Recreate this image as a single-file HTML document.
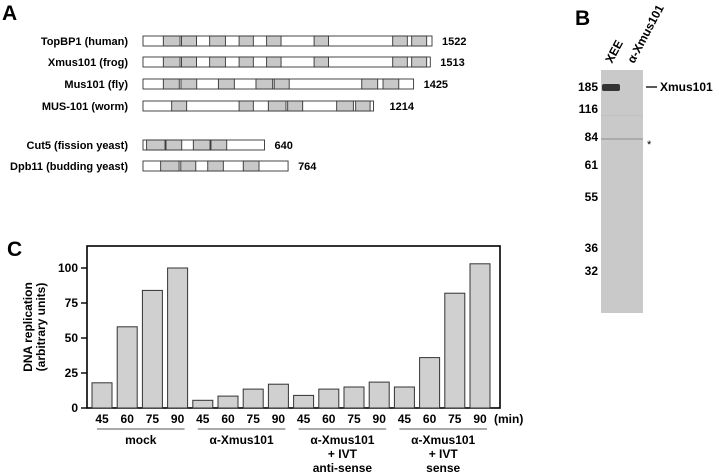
<!DOCTYPE html>
<html><head><meta charset="utf-8"><style>
html,body{margin:0;padding:0;background:#fff;}
svg{display:block;font-family:"Liberation Sans",Arial,sans-serif;}
</style></head><body>
<svg id="fig" width="720" height="476" viewBox="0 0 720 476">
  <g id="panelA">
    <text x="2" y="20" font-size="21" font-weight="bold">A</text>
  </g>
  <g id="panelB">
    <text x="575" y="25" font-size="21" font-weight="bold">B</text>
    <rect x="601" y="70" width="42" height="243" fill="#c9c9c9"/>
    <rect x="601" y="138" width="42" height="2" fill="#ababab"/>
    <rect x="601" y="115" width="42" height="1" fill="#c0c0c0"/>
    <rect x="602" y="84" width="18" height="7" rx="2" fill="#333"/>
    <text transform="translate(612,64) rotate(-62)" font-size="12" font-weight="bold">XEE</text>
    <text transform="translate(634,64) rotate(-62)" font-size="12" font-weight="bold">α-Xmus101</text>
    <g font-size="12" font-weight="bold" text-anchor="end">
      <text x="598" y="91">185</text><text x="598" y="113">116</text><text x="598" y="141">84</text>
      <text x="598" y="169">61</text><text x="598" y="201">55</text><text x="598" y="252">36</text><text x="598" y="275">32</text>
    </g>
    <line x1="646" y1="87" x2="657" y2="87" stroke="#000" stroke-width="1.3"/>
    <text x="660" y="91" font-size="12" font-weight="bold">Xmus101</text>
    <text x="647" y="148" font-size="11">*</text>
  </g>
  <g id="panelC">
    <text x="7" y="256" font-size="21" font-weight="bold">C</text>
  </g>
</svg>
<script>
// Panel A data
const proteins = ["TopBP1 (human)","Xmus101 (frog)","Mus101 (fly)","MUS-101 (worm)","Cut5 (fission yeast)","Dpb11 (budding yeast)"];
const lengths = [1522,1513,1425,1214,640,764];
const domains = [
 [[107,195],[203,282],[351,434],[506,581],[651,727],[901,977],[1315,1392],[1415,1494]],
 [[107,195],[203,282],[351,434],[506,581],[651,727],[901,977],[1315,1392],[1415,1494]],
 [[107,191],[200,283],[397,481],[595,683],[691,770],[1152,1236],[1264,1347]],
 [[151,230],[506,581],[660,753],[762,841],[1020,1108],[1120,1196]],
 [[19,116],[121,204],[265,353],[358,441]],
 [[93,190],[199,278],[341,423],[528,611]]
];
// Panel C data
const groups = ["mock","α-Xmus101","α-Xmus101|+ IVT|anti-sense","α-Xmus101|+ IVT|sense"];
const times = ["45","60","75","90"];
const values = [18,58,84,100, 5.5,8.5,13.5,17, 9,13.5,15,18.5, 15,36,82,103];
const yTicks = [0,25,50,75,100];

const NS="http://www.w3.org/2000/svg";
const svg=document.getElementById('fig');
function mk(tag,attrs,parent){const e=document.createElementNS(NS,tag);for(const k in attrs)e.setAttribute(k,attrs[k]);(parent||svg).appendChild(e);return e;}

// ---- Panel A
const pA=document.getElementById('panelA');
const rowY=[41,62,84,106,145,166];
const x0=143, pxPerAA=289/1522;
const ax=v=>x0+v*pxPerAA;
proteins.forEach((p,i)=>{
  const g=mk('g',{},pA);
  
  
  const y=rowY[i];
  const t=mk('text',{x:128,y:y+4,'font-size':11,'font-weight':'bold','text-anchor':'end'},g);
  t.textContent=p;
  
  
  const r=mk('rect',{x:x0,y:y-5,width:ax(lengths[i])-x0,height:10,fill:'#fff',stroke:'#333','stroke-width':0.9},g);
  
  
  domains[i].forEach(d=>{
    const s=mk('rect',{x:ax(d[0]),y:y-5,width:ax(d[1])-ax(d[0]),height:10,fill:'#c8c8c8',stroke:'#333','stroke-width':0.9},g);
    
    
  });
  const n=mk('text',{x:ax(lengths[i])+(i===3?16:10),y:y+4,'font-size':11,'font-weight':'bold'},g);
  n.textContent=lengths[i];
  
  
});

// ---- Panel C
const pC=document.getElementById('panelC');
const fx0=87,fx1=500,fy0=246,fy1=408;
const yScale=v=>fy1-v*1.4;
const barX=i=>92+i*25.2;
const bw=20;
const frame=mk('rect',{x:fx0,y:fy0,width:fx1-fx0,height:fy1-fy0,fill:'none',stroke:'#000','stroke-width':1.6},pC);


yTicks.forEach(v=>{
  const l=mk('line',{x1:fx0-6,x2:fx0,y1:yScale(v),y2:yScale(v),stroke:'#000','stroke-width':1.4},pC);
  
  
  const t=mk('text',{x:fx0-9,y:yScale(v)+4,'font-size':12,'font-weight':'bold','text-anchor':'end'},pC);
  t.textContent=v;
  
  
});
values.forEach((v,i)=>{
  const r=mk('rect',{x:barX(i),y:yScale(v),width:bw,height:fy1-yScale(v),fill:'#d0d0d0',stroke:'#333','stroke-width':1},pC);
  
  
  const t=mk('text',{x:barX(i)+bw/2,y:423,'font-size':12,'font-weight':'bold','text-anchor':'middle'},pC);
  t.textContent=times[i%4];
  
  
});
const mt=mk('text',{x:494,y:423,'font-size':12,'font-weight':'bold'},pC);
mt.textContent='(min)';


groups.forEach((g,gi)=>{
  const xs=barX(gi*4)+5, xe=barX(gi*4+3)+bw-3;
  const l=mk('line',{x1:xs,x2:xe,y1:429,y2:429,stroke:'#555','stroke-width':1},pC);
  
  
  g.split('|').forEach((line,li)=>{
    const t=mk('text',{x:(xs+xe)/2,y:444+li*14,'font-size':12,'font-weight':'bold','text-anchor':'middle'},pC);
    t.textContent=line;
    
    
  });
});
const yt=mk('text',{transform:'translate(32,327) rotate(-90)','font-size':12,'font-weight':'bold','text-anchor':'middle'},pC);
yt.textContent='DNA replication';


const yt2=mk('text',{transform:'translate(45,327) rotate(-90)','font-size':12,'font-weight':'bold','text-anchor':'middle'},pC);
yt2.textContent='(arbitrary units)';


</script>
</body></html>
